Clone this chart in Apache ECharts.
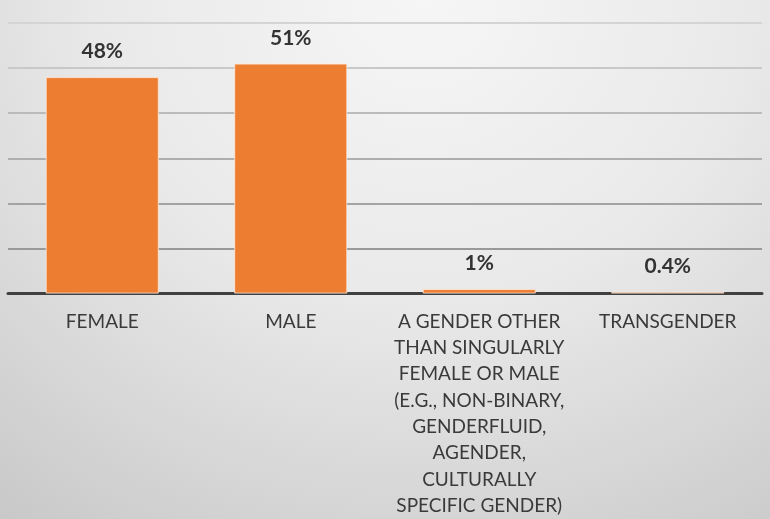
<!DOCTYPE html>
<html>
<head>
<meta charset="utf-8">
<script src="https://cdn.jsdelivr.net/npm/echarts@6/dist/echarts.min.js"></script>
<style>
  html, body { margin: 0; padding: 0; }
  #chart {
    width: 770px; height: 519px;
    background: radial-gradient(ellipse 95% 130% at 55% 0%, #f6f6f6 0%, #e9e9e9 45%, #d6d6d6 75%, #c6c6c6 100%);
  }
</style>
</head>
<body>
<div id="chart"></div>
<script>
const categories = [
  'FEMALE',
  'MALE',
  'A GENDER OTHER\nTHAN SINGULARLY\nFEMALE OR MALE\n(E.G., NON-BINARY,\nGENDERFLUID,\nAGENDER,\nCULTURALLY\nSPECIFIC GENDER)',
  'TRANSGENDER'
];
const values = [48, 51, 1, 0.4];
const valueLabels = ['48%', '51%', '1%', '0.4%'];

const FONT = 'Lato, "Open Sans", sans-serif';
const chart = echarts.init(document.getElementById('chart'));
chart.setOption({
  backgroundColor: 'transparent',
  animation: false,
  grid: { left: 8, right: 8, top: 23, bottom: 225, containLabel: false },
  xAxis: {
    type: 'category',
    data: categories,
    axisLine: { show: true, lineStyle: { color: '#404040', width: 3 } },
    axisTick: { show: false },
    axisLabel: {
      interval: 0,
      color: '#3a3a3a',
      fontFamily: FONT,
      fontSize: 19,
      lineHeight: 26.3,
      margin: 15,
      align: 'center'
    }
  },
  yAxis: {
    type: 'value',
    min: 0, max: 60, interval: 10,
    axisLine: { show: false },
    axisTick: { show: false },
    axisLabel: { show: false },
    splitLine: {
      show: true,
      lineStyle: {
        width: 2,
        color: ['#555555', '#999999', '#a3a3a3', '#aeaeae', '#bbbbbb', '#c8c8c8', '#d4d4d4']
      }
    }
  },
  series: [{
    type: 'bar',
    data: values,
    barWidth: '60%',
    itemStyle: { color: '#ED7D31', borderColor: 'rgba(255,235,220,0.8)', borderWidth: 1 },
    label: {
      show: true,
      position: 'top',
      distance: 15,
      color: '#333333',
      fontFamily: FONT,
      fontWeight: 'bold',
      fontSize: 21,
      formatter: p => valueLabels[p.dataIndex]
    }
  }]
});
</script>
</body>
</html>
